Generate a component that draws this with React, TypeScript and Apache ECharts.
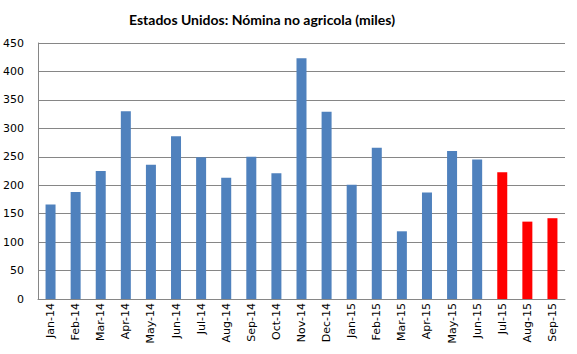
import React, { useEffect, useRef } from "react";
import * as echarts from "echarts";

const categories = ["Jan-14","Feb-14","Mar-14","Apr-14","May-14","Jun-14","Jul-14","Aug-14","Sep-14","Oct-14","Nov-14","Dec-14","Jan-15","Feb-15","Mar-15","Apr-15","May-15","Jun-15","Jul-15","Aug-15","Sep-15"];
const values = [166, 188, 225, 330, 236, 286, 249, 213, 250, 221, 423, 329, 201, 266, 119, 187, 260, 245, 223, 136, 142];
const highlighted = ["Jul-15", "Aug-15", "Sep-15"];
const titleText = "Estados Unidos: Nómina no agricola (miles)";

export default function App() {
  const ref = useRef<HTMLDivElement>(null);
  useEffect(() => {
    if (!ref.current) return;
    const chart = echarts.init(ref.current, null, { renderer: "svg" });
    chart.setOption({
      animation: false,
      backgroundColor: "#ffffff",
      title: {
        text: titleText,
        left: 124,
        top: 7,
        textStyle: { fontFamily: "Lato", fontWeight: "bold", fontSize: 14, color: "#000" },
      },
      grid: { left: 37, right: 12, top: 43, bottom: 55 },
      xAxis: {
        type: "category",
        data: categories,
        axisLine: { lineStyle: { color: "#868686" } },
        axisTick: { show: false },
        axisLabel: {
          rotate: 90,
          interval: 0,
          margin: 4,
          fontFamily: "DejaVu Sans",
          fontSize: 11,
          color: "#000",
        },
      },
      yAxis: {
        type: "value",
        min: 0,
        max: 450,
        interval: 50,
        axisLine: { show: true, lineStyle: { color: "#868686" } },
        axisTick: { show: false },
        splitLine: { lineStyle: { color: "#868686" } },
        axisLabel: { margin: 14, fontFamily: "DejaVu Sans", fontSize: 11, color: "#000" },
      },
      series: [
        {
          type: "bar",
          barWidth: 10,
          data: values.map((v, i) => ({
            value: v,
            itemStyle: { color: highlighted.includes(categories[i]) ? "#ff0000" : "#4f81bd" },
          })),
        },
      ],
    });
    return () => chart.dispose();
  }, []);
  return <div ref={ref} style={{ width: 577, height: 354, position: "absolute", left: 0, top: 0 }} />;
}
